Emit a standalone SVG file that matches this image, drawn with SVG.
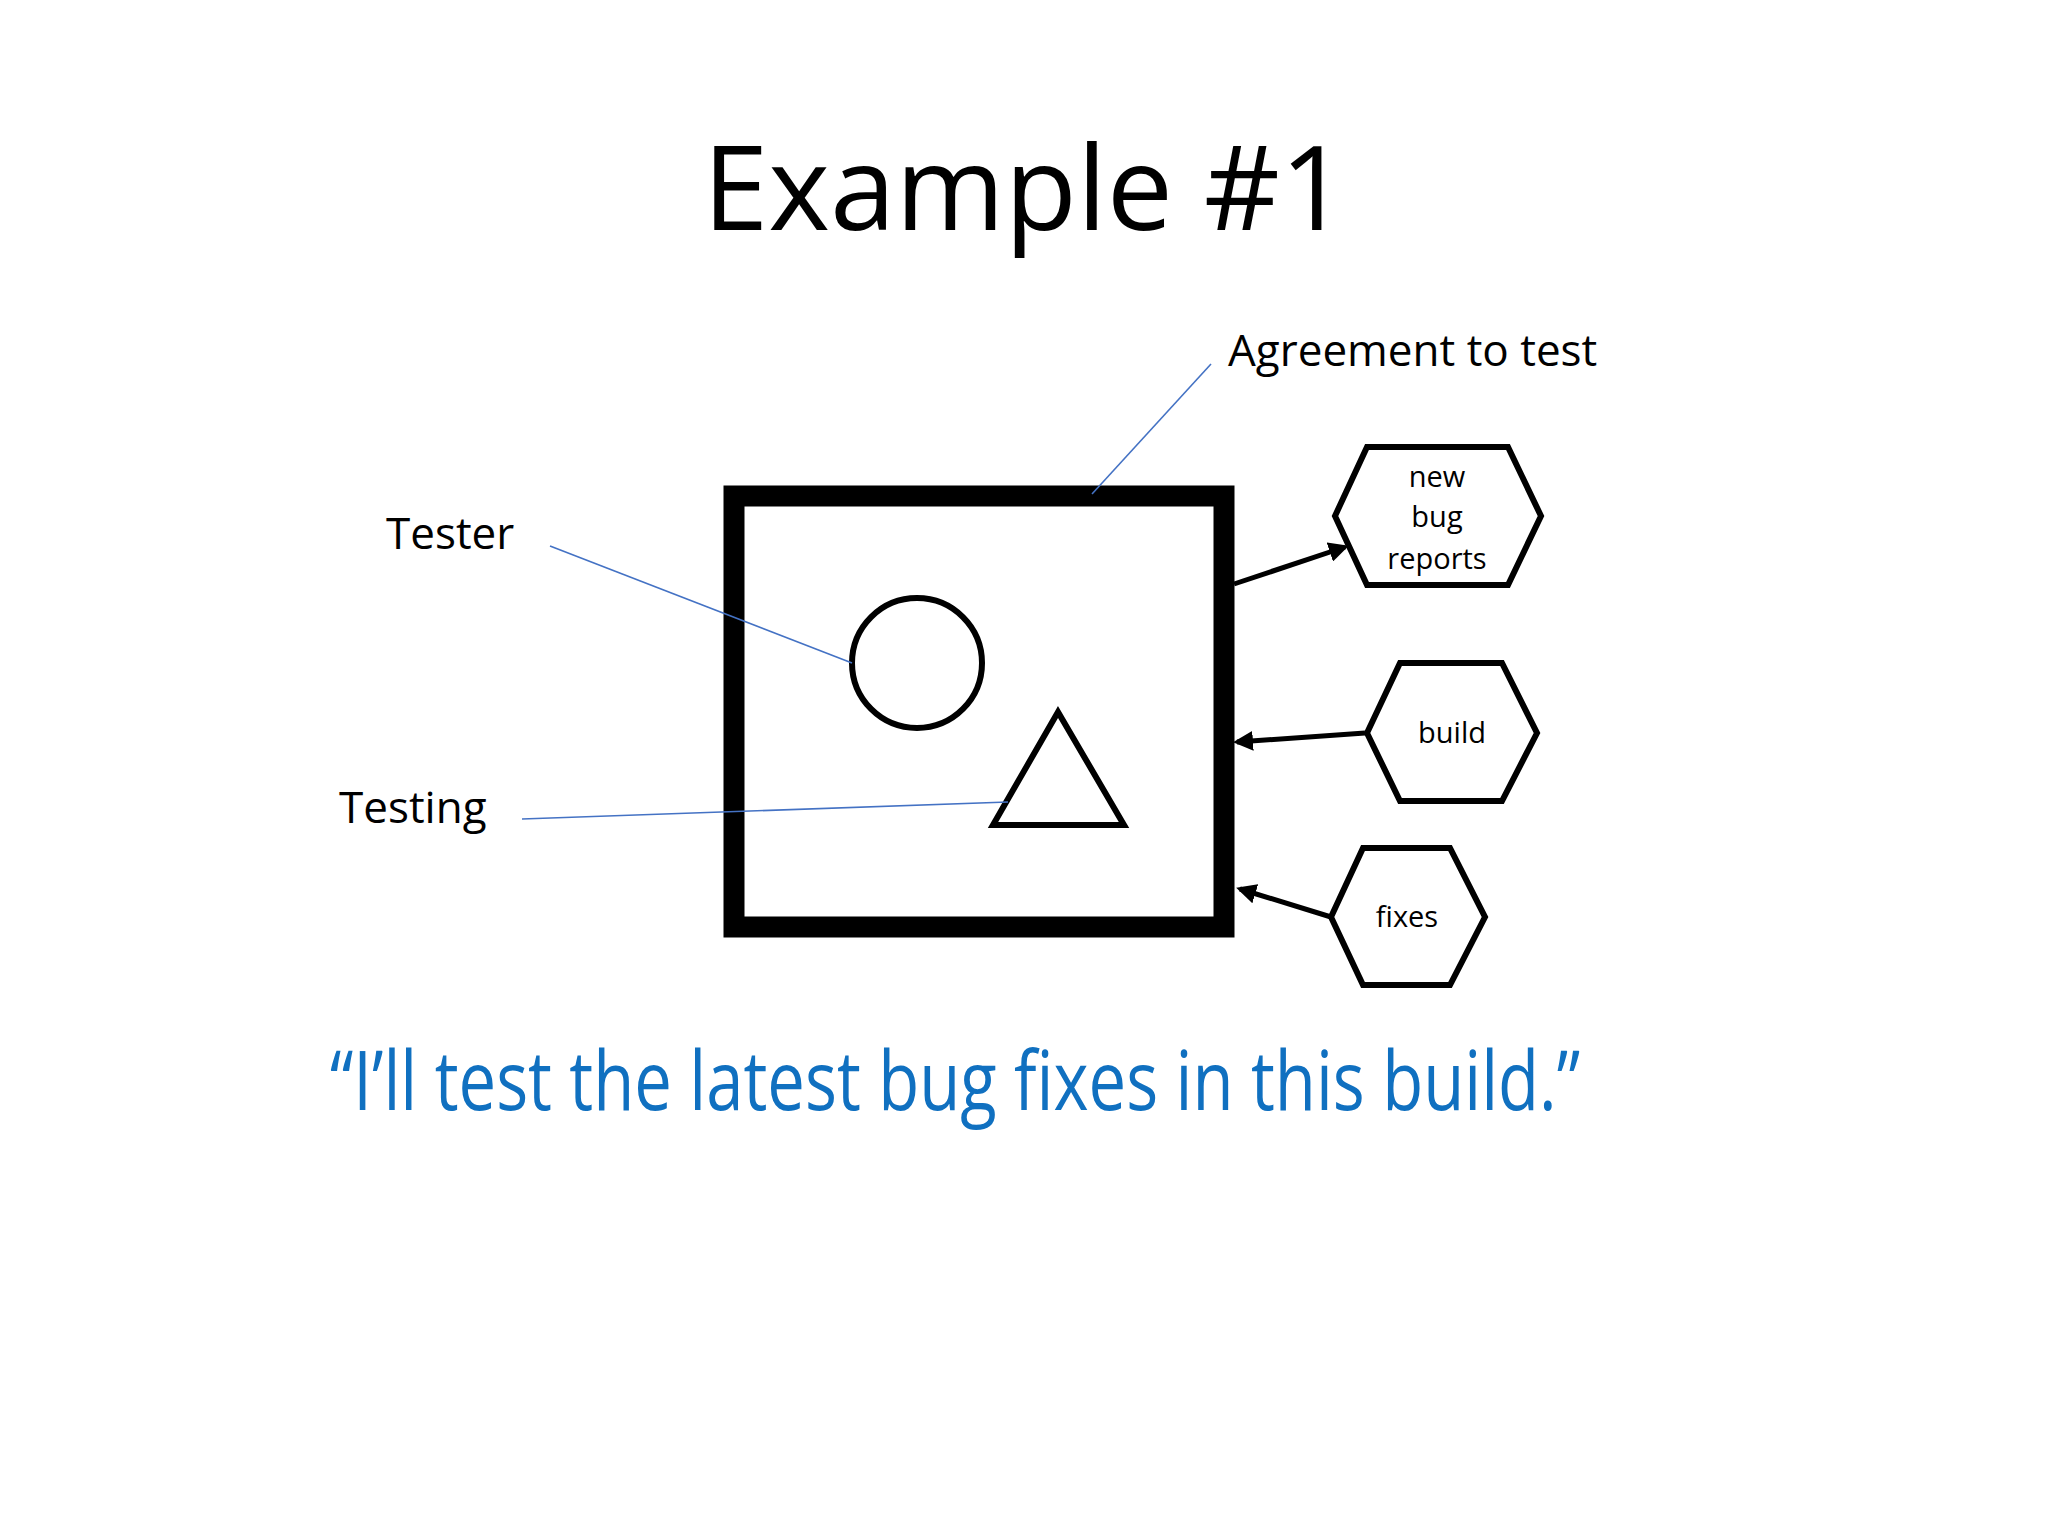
<svg xmlns="http://www.w3.org/2000/svg" width="2048" height="1536" viewBox="0 0 2048 1536">
<defs>
<style>
.t{font-family:"Open Sans","Liberation Sans",sans-serif;fill:#000}
.lead{stroke:#4472C4;stroke-width:1.6;fill:none}
.hex{fill:#fff;stroke:#000;stroke-width:6;stroke-linejoin:miter}
.arr{stroke:#000;stroke-width:5;fill:none;marker-end:url(#ah)}
.ht{font-family:"Open Sans","Liberation Sans",sans-serif;font-size:29px;text-anchor:middle;fill:#000}
</style>
<marker id="ah" viewBox="0 0 10 10" refX="8" refY="5" markerWidth="4" markerHeight="4" orient="auto" markerUnits="strokeWidth">
<path d="M0,0 L10,5 L0,10 z" fill="#000"/>
</marker>
</defs>
<rect width="2048" height="1536" fill="#fff"/>
<text class="t" x="1025" y="230" font-size="118" text-anchor="middle">Example #1</text>

<g id="box"><rect x="734" y="496" width="490" height="431" fill="none" stroke="#000" stroke-width="21"/></g>
<g id="tester"><circle cx="917" cy="663" r="65" fill="none" stroke="#000" stroke-width="6"/></g>
<g id="testing"><polygon points="1058,712 993,825 1124,825" fill="none" stroke="#000" stroke-width="6" stroke-linejoin="miter"/></g>

<g id="newbug">
<polygon class="hex" points="1335,516 1367,447 1508,447 1541,516 1508,585 1367,585"/>
<text class="ht" x="1437" y="487">new</text>
<text class="ht" x="1437" y="527">bug</text>
<text class="ht" x="1437" y="569">reports</text>
</g>
<g id="build">
<polygon class="hex" points="1367,733 1400,663 1502,663 1537,733 1502,801 1400,801"/>
<text class="ht" x="1452" y="743">build</text>
</g>
<g id="fixes">
<polygon class="hex" points="1331,917 1363,848 1450,848 1485,917 1450,985 1363,985"/>
<text class="ht" x="1407" y="927">fixes</text>
</g>

<g id="labels">
<text class="t" x="1228" y="366" font-size="44">Agreement to test</text>
<text class="t" x="386" y="549" font-size="44">Tester</text>
<text class="t" x="339" y="823" font-size="44">Testing</text>
</g>

<g id="connectors">
<line class="lead" x1="1211" y1="364" x2="1092" y2="494"/>
<line class="lead" x1="550" y1="546" x2="852" y2="663"/>
<line class="lead" x1="522" y1="819" x2="1008" y2="802"/>
<line class="arr" x1="1234" y1="584" x2="1345" y2="547"/>
<line class="arr" x1="1365" y1="733" x2="1237" y2="742"/>
<line class="arr" x1="1331" y1="917" x2="1240" y2="889"/>
</g>

<text x="330" y="1110" font-family="Open Sans, Liberation Sans, sans-serif" font-size="82" fill="#1070C0" textLength="1250" lengthAdjust="spacingAndGlyphs">“I’ll test the latest bug fixes in this build.”</text>
</svg>
